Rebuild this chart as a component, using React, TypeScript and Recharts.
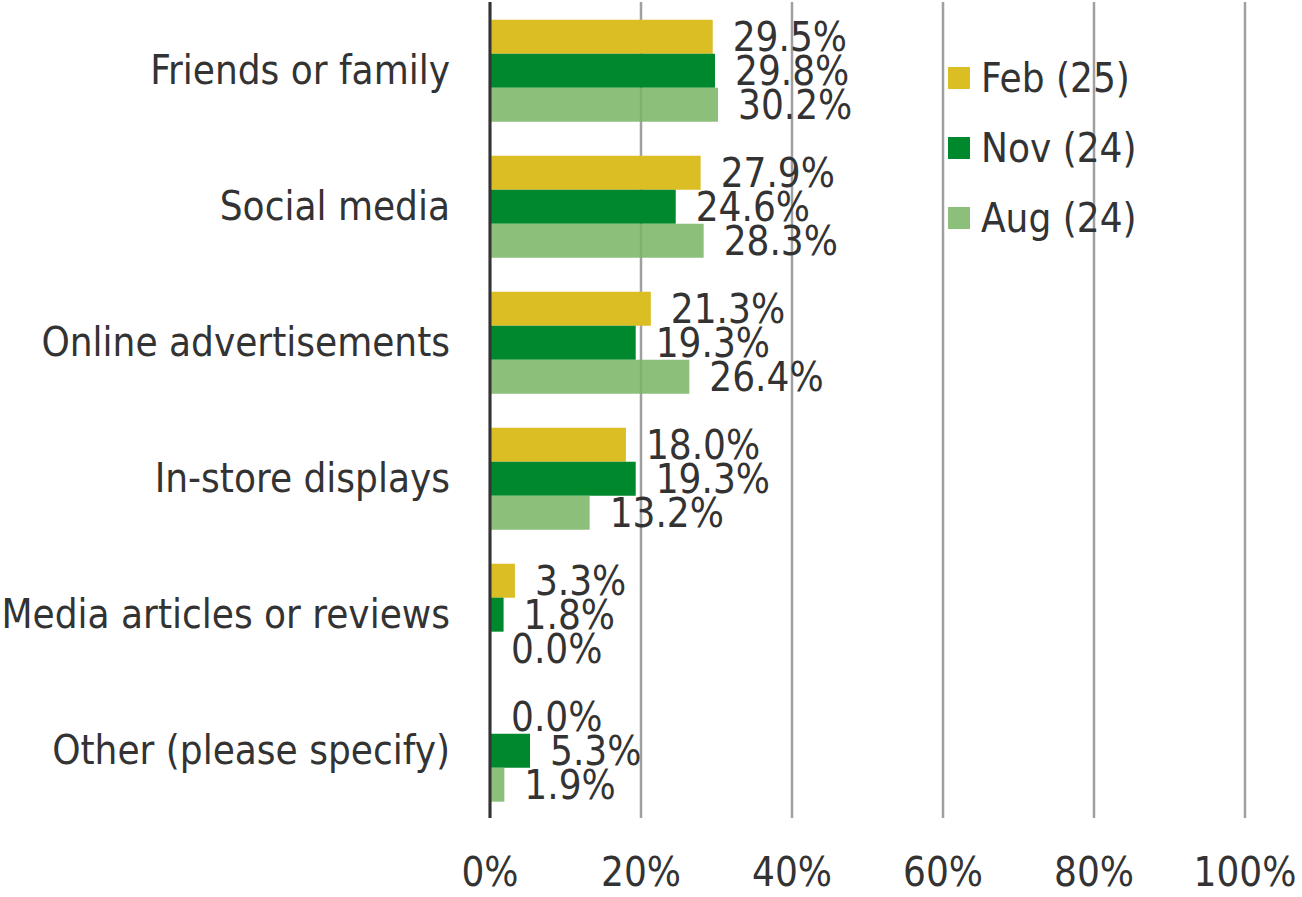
import { BarChart, Bar, XAxis, YAxis, CartesianGrid, Legend, LabelList } from 'recharts';

const categories = ['Friends or family', 'Social media', 'Online advertisements', 'In-store displays', 'Media articles or reviews', 'Other (please specify)'];
const seriesNames = ['Feb (25)', 'Nov (24)', 'Aug (24)'];
const feb25 = [29.5, 27.9, 21.3, 18.0, 3.3, 0.0];
const nov24 = [29.8, 24.6, 19.3, 19.3, 1.8, 5.3];
const aug24 = [30.2, 28.3, 26.4, 13.2, 0.0, 1.9];
const xTicks = [0, 20, 40, 60, 80, 100];

const data = categories.map((name, i) => ({ name, feb: feb25[i], nov: nov24[i], aug: aug24[i] }));

const FONT = '"DejaVu Sans Condensed", "DejaVu Sans", sans-serif';
const TEXT = '#333333';
const swatch: Record<string, string> = { 'Feb (25)': '#dbbd24', 'Nov (24)': '#00882c', 'Aug (24)': '#8bbf7a' };
const fmt = (v: any) => `${Number(v).toFixed(1)}%`;

function LegendBox(props: any) {
  const items = [...(props.payload || [])].sort(
    (a: any, b: any) => seriesNames.indexOf(a.value) - seriesNames.indexOf(b.value)
  );
  return (
    <div style={{ fontFamily: FONT, fontSize: 40, color: TEXT }}>
      {items.map((it: any) => (
        <div key={it.value} style={{ display: 'flex', alignItems: 'center', height: 70 }}>
          <span style={{ width: 22, height: 22, background: swatch[it.value] || it.color, display: 'inline-block', marginRight: 11 }} />
          <span>{it.value}</span>
        </div>
      ))}
    </div>
  );
}

export default function App() {
  const labelStyle = { fontFamily: FONT, fontSize: 40, fill: TEXT };
  return (
    <div style={{ position: 'absolute', left: 0, top: 0, background: '#fff' }}>
      <BarChart width={1302} height={897} data={data} layout="vertical"
        margin={{ top: 2, right: 57, bottom: 0, left: 0 }} barCategoryGap="13%" barGap={0}>
        <CartesianGrid horizontal={false} stroke="#a0a0a0" strokeWidth={2.5} />
        <XAxis type="number" domain={[0, 100]} ticks={xTicks} tickFormatter={(v) => `${v}%`}
          axisLine={false} tickLine={false} tickSize={0} tickMargin={40} height={79} interval={0}
          tick={{ fontFamily: FONT, fontSize: 40, fill: TEXT }} />
        <YAxis type="category" dataKey="name" width={490} axisLine={{ stroke: '#333', strokeWidth: 3 }}
          tickLine={false} tickSize={0} tickMargin={40} interval={0}
          tick={{ fontFamily: FONT, fontSize: 40, fill: TEXT }} />
        <Legend layout="vertical" align="center" verticalAlign="middle" content={<LegendBox />}
          wrapperStyle={{ left: 948, top: 43, width: 260 }} />
        <Bar dataKey="feb" name={seriesNames[0]} fill="#dbbd24" minPointSize={1} isAnimationActive={false}>
          <LabelList dataKey="feb" position="right" offset={20} formatter={fmt} style={labelStyle} />
        </Bar>
        <Bar dataKey="nov" name={seriesNames[1]} fill="#00882c" minPointSize={1} isAnimationActive={false}>
          <LabelList dataKey="nov" position="right" offset={20} formatter={fmt} style={labelStyle} />
        </Bar>
        <Bar dataKey="aug" name={seriesNames[2]} fill="#77b463" fillOpacity={0.85} minPointSize={1} isAnimationActive={false}>
          <LabelList dataKey="aug" position="right" offset={20} formatter={fmt} style={labelStyle} />
        </Bar>
      </BarChart>
    </div>
  );
}
